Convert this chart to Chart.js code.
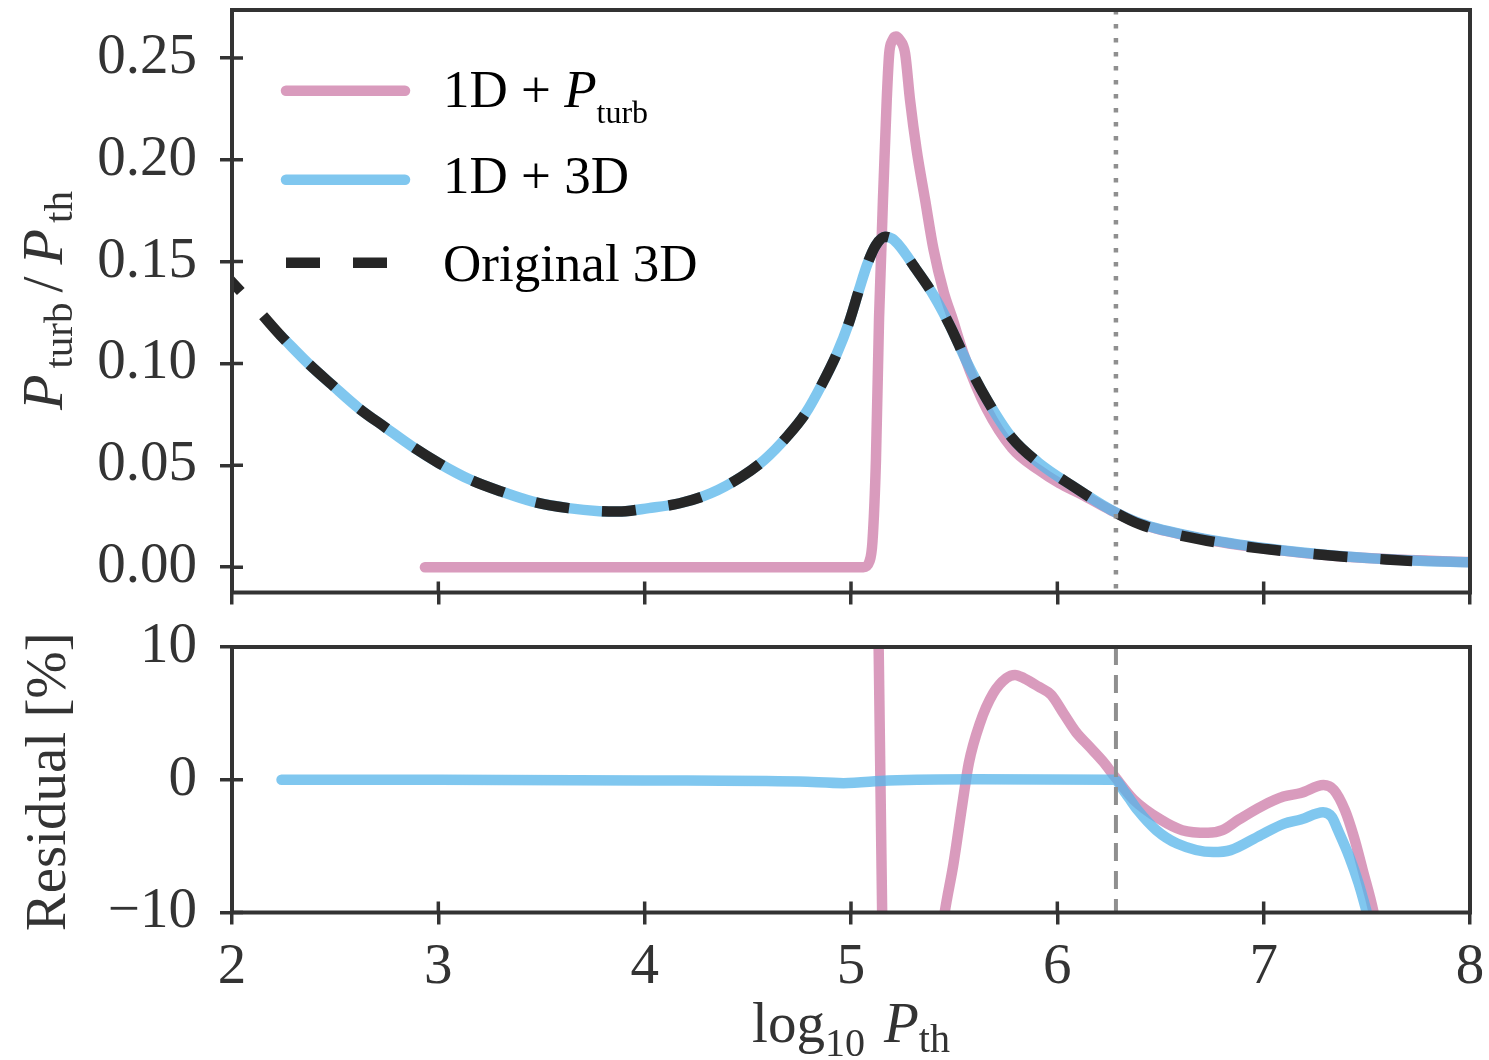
<!DOCTYPE html>
<html>
<head>
<meta charset="utf-8">
<title>Pturb / Pth</title>
<script src="https://cdn.jsdelivr.net/npm/chart.js@4.4.1/dist/chart.umd.min.js"></script>
<style>
  html, body { margin: 0; padding: 0; background: #ffffff; }
  #wrap { position: relative; width: 1489px; height: 1060px; }
  #wrap canvas { position: absolute; left: 0; top: 0; }
</style>
</head>
<body>
<div id="wrap">
  <canvas id="topChart" width="1489" height="1060"></canvas>
  <canvas id="residChart" width="1489" height="1060"></canvas>
</div>
<script>
// ---- values ----
const xTicks = [2, 3, 4, 5, 6, 7, 8];
const topYTicks = [0, 0.05, 0.10, 0.15, 0.20, 0.25];
const residYTicks = [-10, 0, 10];
const topYMin = -0.0124, topYMax = 0.2735;
const residYMin = -10, residYMax = 10;
const splitX = 6.284; // vertical marker line

// Original 3D (black dashed)
const origX = [1.93, 2.0, 2.14, 2.248, 2.377, 2.485, 2.615, 2.745, 2.874, 3.004, 3.156, 3.307, 3.458, 3.631,
  3.78, 3.87, 4.02, 4.17, 4.32, 4.47, 4.58, 4.69, 4.78, 4.86, 4.93, 4.99, 5.04, 5.08, 5.12, 5.165, 5.20, 5.237,
  5.27, 5.30, 5.40, 5.48, 5.56, 5.657, 5.78, 5.909, 6.073, 6.255, 6.40, 6.69, 7.02, 7.35, 7.72];
const origY = [0.1475, 0.140, 0.1246, 0.1124, 0.0993, 0.0895, 0.0780, 0.0685, 0.0592, 0.0510, 0.0429, 0.0371, 0.0322, 0.0290,
  0.0275, 0.0273, 0.0290, 0.0314, 0.0363, 0.0445, 0.0527, 0.0641, 0.0756, 0.0900, 0.1045, 0.1200, 0.1365, 0.1490, 0.1580, 0.1622, 0.1612, 0.1575,
  0.1530, 0.1485, 0.1335, 0.1185, 0.1010, 0.0825, 0.0635, 0.0513, 0.0399, 0.0284, 0.0211, 0.0137, 0.0088, 0.0055, 0.0030];

// 1D + 3D (blue)
const with3dX = [2.24, 2.377, 2.485, 2.615, 2.745, 2.874, 3.004, 3.156, 3.307, 3.458, 3.631,
  3.78, 3.87, 4.02, 4.17, 4.32, 4.47, 4.58, 4.69, 4.78, 4.86, 4.93, 4.99, 5.04, 5.08, 5.12, 5.165, 5.20, 5.237,
  5.27, 5.30, 5.40, 5.48, 5.56, 5.657, 5.78, 5.909, 6.073, 6.255, 6.40, 6.69, 7.02, 7.35, 7.72, 8.0];
const with3dY = [0.1133, 0.0993, 0.0895, 0.0780, 0.0685, 0.0592, 0.0510, 0.0429, 0.0371, 0.0322, 0.0290,
  0.0275, 0.0273, 0.0290, 0.0314, 0.0363, 0.0445, 0.0527, 0.0641, 0.0756, 0.0900, 0.1045, 0.1200, 0.1365, 0.1490, 0.1580, 0.1622, 0.1612, 0.1575,
  0.1530, 0.1485, 0.1335, 0.1185, 0.1010, 0.0825, 0.0635, 0.0513, 0.0399, 0.0284, 0.0216, 0.0144, 0.0092, 0.0057, 0.0033, 0.0024];

// 1D + Pturb (pink)
const withTurbX = [2.935, 5.06, 5.09, 5.104, 5.121, 5.136, 5.161, 5.173, 5.185, 5.20, 5.218, 5.235, 5.262, 5.286,
  5.318, 5.359, 5.40, 5.45, 5.488, 5.55, 5.657, 5.78, 5.909, 6.01, 6.115, 6.255, 6.40, 6.69, 7.02, 7.35, 7.70, 8.0];
const withTurbY = [0, 0, 0.003, 0.0125, 0.053, 0.1225, 0.197, 0.229, 0.252, 0.2585, 0.2605, 0.259, 0.2523, 0.2294,
  0.2049, 0.1804, 0.156, 0.1348, 0.1232, 0.1035, 0.0778, 0.0585, 0.0478, 0.0412, 0.0359, 0.0282, 0.0214, 0.0142, 0.0090, 0.0055, 0.0035, 0.0026];

// residuals [%]
const residTurbX = [2.935, 5.05, 5.10, 5.125, 5.134, 5.151, 5.16, 5.20, 5.30, 5.40, 5.454, 5.497, 5.54, 5.571, 5.625,
  5.689, 5.753, 5.795, 5.838, 5.91, 5.97, 6.03, 6.09, 6.155, 6.22, 6.28, 6.37, 6.50, 6.605, 6.73, 6.80, 6.88, 6.99,
  7.096, 7.18, 7.29, 7.34, 7.394, 7.437, 7.48, 7.533, 7.58];
const residTurbY = [100, 100, 80, 30, 10, -10, -30, -60, -60, -16, -10, -6.3, -1.8, 1.25, 4.26,
  6.5, 7.65, 7.9, 7.65, 7.0, 6.4, 5.0, 3.6, 2.5, 1.4, 0.2, -1.5, -3.0, -3.8, -4.0, -3.8, -3.0, -2.0,
  -1.27, -1.0, -0.4, -0.76, -2.3, -4.3, -6.8, -10, -14];
const resid3dX = [2.24, 3.0, 4.0, 4.75, 4.964, 5.18, 5.6, 6.275, 6.33, 6.39, 6.48, 6.58, 6.755, 6.84, 6.97,
  7.10, 7.18, 7.288, 7.33, 7.36, 7.415, 7.46, 7.50, 7.55];
const resid3dY = [0, 0, -0.05, -0.14, -0.26, -0.06, 0.04, 0.0, -1.0, -2.3, -3.8, -4.8, -5.45, -5.3, -4.3,
  -3.3, -3.0, -2.45, -2.8, -3.8, -5.8, -7.8, -10, -13];

// ---- styling ----
const SERIF = "'Liberation Serif', 'Times New Roman', serif";
const AXIS = '#333333';
const PINK = 'rgba(204, 121, 167, 0.75)';
const BLUE = 'rgba(86, 180, 233, 0.75)';
const DARK = '#262626';
const MARK = '#8f8f8f';
const LW = 10.5;

Chart.defaults.font.family = SERIF;

function toPoints(xs, ys) {
  return xs.map((x, i) => ({ x: x, y: ys[i] }));
}

function curve(label, xs, ys, color, order, dash) {
  return {
    label: label,
    data: toPoints(xs, ys),
    showLine: true,
    borderColor: color,
    backgroundColor: color,
    borderWidth: LW,
    borderDash: dash || [],
    borderCapStyle: dash ? 'butt' : 'round',
    borderJoinStyle: 'round',
    cubicInterpolationMode: 'monotone',
    pointRadius: 0,
    pointHoverRadius: 0,
    order: order
  };
}

function marker(yMin, yMax, dash, width) {
  return {
    label: 'marker',
    data: [{ x: splitX, y: yMax }, { x: splitX, y: yMin }],
    showLine: true,
    borderColor: MARK,
    borderWidth: width,
    borderDash: dash,
    borderCapStyle: 'butt',
    tension: 0,
    pointRadius: 0,
    pointHoverRadius: 0,
    order: -1
  };
}

function zeroPad(s) {
  s.paddingLeft = 0; s.paddingRight = 0; s.paddingTop = 0; s.paddingBottom = 0;
}

function xScale(height, showLabels) {
  return {
    type: 'linear', min: 2, max: 8,
    afterBuildTicks: s => { s.ticks = xTicks.map(v => ({ value: v })); },
    afterFit: s => { s.height = height; zeroPad(s); },
    border: { display: false },
    grid: { drawOnChartArea: false, drawTicks: true, tickLength: 12, lineWidth: 3.5, color: AXIS },
    ticks: {
      display: showLabels, autoSkip: false, maxRotation: 0, padding: 9, color: AXIS,
      font: { family: SERIF, size: 57 },
      callback: v => String(v)
    }
  };
}

function yScale(min, max, tickVals, fmt) {
  return {
    type: 'linear', min: min, max: max,
    afterBuildTicks: s => { s.ticks = tickVals.map(v => ({ value: v })); },
    afterFit: s => { s.width = 232; zeroPad(s); },
    border: { display: false },
    grid: { drawOnChartArea: false, drawTicks: true, tickLength: 12, lineWidth: 3.5, color: AXIS },
    ticks: {
      autoSkip: false, padding: 23, color: AXIS,
      font: { family: SERIF, size: 57 },
      callback: fmt
    }
  };
}

// spines on all four sides plus the inner half of each tick
const framePlugin = {
  id: 'frame',
  afterDatasetsDraw(chart) {
    const { ctx, chartArea: a, scales } = chart;
    ctx.save();
    ctx.strokeStyle = AXIS;
    ctx.lineWidth = 3.5;
    ctx.beginPath();
    scales.x.ticks.forEach((t, i) => {
      const px = scales.x.getPixelForTick(i);
      ctx.moveTo(px, a.bottom);
      ctx.lineTo(px, a.bottom - 11);
    });
    scales.y.ticks.forEach((t, i) => {
      const py = scales.y.getPixelForTick(i);
      ctx.moveTo(a.left, py);
      ctx.lineTo(a.left + 11, py);
    });
    ctx.stroke();
    ctx.lineWidth = 4;
    ctx.strokeRect(a.left, a.top, a.right - a.left, a.bottom - a.top);
    ctx.restore();
  }
};

// text with italic / subscript pieces
function drawRich(ctx, parts, x, y) {
  let cx = x;
  parts.forEach(p => {
    cx += p.gap || 0;
    ctx.font = (p.italic ? 'italic ' : '') + p.size + 'px ' + SERIF;
    ctx.fillText(p.text, cx, y + (p.dy || 0));
    cx += ctx.measureText(p.text).width;
  });
  return cx - x;
}

function richWidth(ctx, parts) {
  let w = 0;
  parts.forEach(p => {
    ctx.font = (p.italic ? 'italic ' : '') + p.size + 'px ' + SERIF;
    w += (p.gap || 0) + ctx.measureText(p.text).width;
  });
  return w;
}

const legendRows = [
  { color: PINK, dash: [], y: 90.8, base: 106.7,
    parts: [{ text: '1D + ', size: 53 }, { text: 'P', size: 53, italic: true }, { text: 'turb', size: 32, dy: 16 }] },
  { color: BLUE, dash: [], y: 179.8, base: 193.3, parts: [{ text: '1D + 3D', size: 53 }] },
  { color: DARK, dash: [34, 33], y: 262.7, base: 280.5, parts: [{ text: 'Original 3D', size: 53 }] }
];

const topTextPlugin = {
  id: 'topText',
  afterDraw(chart) {
    const ctx = chart.ctx;
    ctx.save();
    legendRows.forEach(r => {
      ctx.strokeStyle = r.color;
      ctx.lineWidth = LW;
      ctx.setLineDash(r.dash);
      ctx.lineCap = r.dash.length ? 'butt' : 'round';
      ctx.beginPath();
      ctx.moveTo(286, r.y);
      ctx.lineTo(405, r.y);
      ctx.stroke();
      ctx.setLineDash([]);
      ctx.fillStyle = '#000000';
      ctx.textBaseline = 'alphabetic';
      ctx.textAlign = 'left';
      drawRich(ctx, r.parts, 443, r.base);
    });
    // y title: P_turb / P_th
    ctx.fillStyle = AXIS;
    ctx.translate(62, 410);
    ctx.rotate(-Math.PI / 2);
    drawRich(ctx, [
      { text: 'P', size: 58, italic: true },
      { text: 'turb', size: 41, dy: 10, gap: 6 },
      { text: '/', size: 58, gap: 10 },
      { text: 'P', size: 58, italic: true, gap: 12 },
      { text: 'th', size: 41, dy: 10, gap: 6 }
    ], 0, 0);
    ctx.restore();
  }
};

const residTextPlugin = {
  id: 'residText',
  afterDraw(chart) {
    const ctx = chart.ctx;
    ctx.save();
    ctx.fillStyle = AXIS;
    ctx.textBaseline = 'alphabetic';
    // x title: log10 P_th
    const xParts = [
      { text: 'log', size: 57 },
      { text: '10', size: 40, dy: 14 },
      { text: 'P', size: 57, italic: true, gap: 19 },
      { text: 'th', size: 40, dy: 10 }
    ];
    const a = chart.chartArea;
    const w = richWidth(ctx, xParts);
    ctx.textAlign = 'left';
    drawRich(ctx, xParts, (a.left + a.right) / 2 - w / 2, 1042);
    // y title
    ctx.translate(65, (a.top + a.bottom) / 2 + 2);
    ctx.rotate(-Math.PI / 2);
    ctx.textAlign = 'center';
    ctx.font = '57px ' + SERIF;
    ctx.fillText('Residual [%]', 0, 0);
    ctx.restore();
  }
};

const common = {
  responsive: false,
  animation: false,
  devicePixelRatio: 1,
  events: [],
  plugins: { legend: { display: false }, tooltip: { enabled: false } }
};

new Chart(document.getElementById('topChart'), {
  type: 'scatter',
  data: {
    datasets: [
      marker(topYMin, topYMax, [4.5, 9.5], 4.5),
      curve('Original 3D', origX, origY, DARK, 0, [34, 33]),
      curve('1D + 3D', with3dX, with3dY, BLUE, 1),
      curve('1D + P_turb', withTurbX, withTurbY, PINK, 2)
    ]
  },
  options: Object.assign({}, common, {
    layout: { padding: { left: 0, top: 10, right: 19, bottom: 0 } },
    scales: {
      x: xScale(1060 - 592.5, false),
      y: yScale(topYMin, topYMax, topYTicks, v => v.toFixed(2))
    }
  }),
  plugins: [framePlugin, topTextPlugin]
});

new Chart(document.getElementById('residChart'), {
  type: 'scatter',
  data: {
    datasets: [
      marker(residYMin, residYMax, [18, 10], 4),
      curve('1D + 3D', resid3dX, resid3dY, BLUE, 1),
      curve('1D + P_turb', residTurbX, residTurbY, PINK, 2)
    ]
  },
  options: Object.assign({}, common, {
    layout: { padding: { left: 0, top: 647, right: 19, bottom: 0 } },
    scales: {
      x: xScale(1060 - 912.5, true),
      y: yScale(residYMin, residYMax, residYTicks, v => (v < 0 ? '\u2212' + Math.abs(v) : String(v)))
    }
  }),
  plugins: [framePlugin, residTextPlugin]
});
</script>
</body>
</html>
